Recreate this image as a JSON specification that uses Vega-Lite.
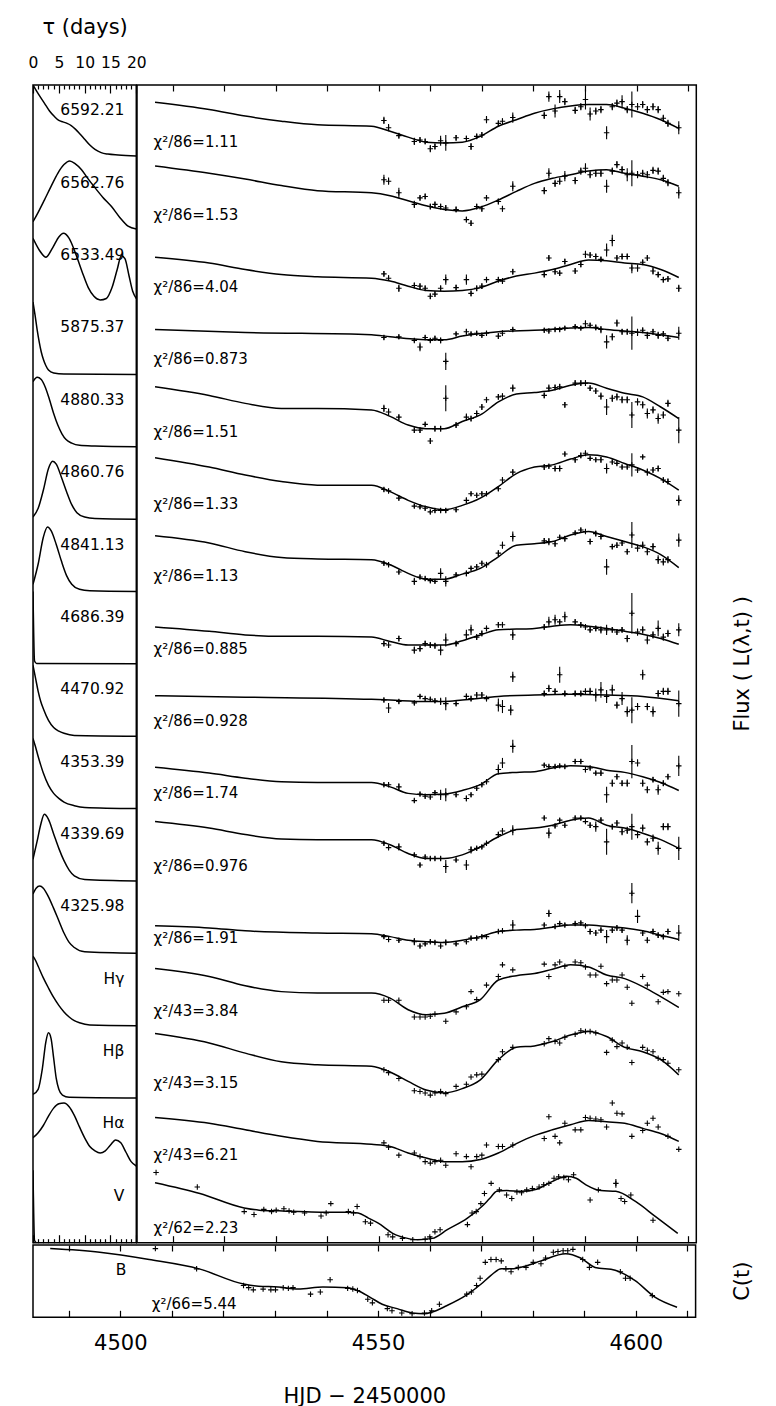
{
"$schema":"https://vega.github.io/schema/vega-lite/v6.json",
"background":"white",
"padding":{"left":27,"top":15,"right":5,"bottom":0},
"config":{"font":"DejaVu Sans","view":{"stroke":"black","strokeWidth":1.5},
"axis":{"domainColor":"black","tickColor":"black","labelColor":"black","titleColor":"black","domainWidth":1.5,"tickWidth":1.2,"grid":false,"titleFontWeight":"normal","labelFont":"DejaVu Sans","titleFont":"DejaVu Sans"}},
"spacing":-5.5,
"vconcat":[
{"hconcat":[
{
"width":103.3,"height":1157.7,
"data":{"values":[
{"r":1,"lab":"6592.21"},{"r":2,"lab":"6562.76"},{"r":3,"lab":"6533.49"},{"r":4,"lab":"5875.37"},{"r":5,"lab":"4880.33"},{"r":6,"lab":"4860.76"},{"r":7,"lab":"4841.13"},{"r":8,"lab":"4686.39"},{"r":9,"lab":"4470.92"},{"r":10,"lab":"4353.39"},{"r":11,"lab":"4339.69"},{"r":12,"lab":"4325.98"},{"r":13,"lab":"Hγ"},{"r":14,"lab":"Hβ"},{"r":15,"lab":"Hα"},{"r":16,"lab":"V"},
{"r":1,"tau":0,"psi":100},{"r":1,"tau":1,"psi":88},{"r":1,"tau":2.2,"psi":75},{"r":1,"tau":3.2,"psi":64},{"r":1,"tau":4.2,"psi":56},{"r":1,"tau":5,"psi":51},{"r":1,"tau":5.8,"psi":49},{"r":1,"tau":6.6,"psi":47},{"r":1,"tau":7.4,"psi":44},{"r":1,"tau":8.2,"psi":39},{"r":1,"tau":9,"psi":33},{"r":1,"tau":10,"psi":25},{"r":1,"tau":11,"psi":17},{"r":1,"tau":12,"psi":11},{"r":1,"tau":13.2,"psi":6.5},{"r":1,"tau":14.5,"psi":4.5},{"r":1,"tau":16.5,"psi":3.3},{"r":1,"tau":20,"psi":2},
{"r":2,"tau":0,"psi":11},{"r":2,"tau":1,"psi":24},{"r":2,"tau":2.2,"psi":41},{"r":2,"tau":3.5,"psi":60},{"r":2,"tau":4.8,"psi":78},{"r":2,"tau":6,"psi":90},{"r":2,"tau":7.1,"psi":95},{"r":2,"tau":8.2,"psi":91},{"r":2,"tau":9.4,"psi":83},{"r":2,"tau":10.6,"psi":71},{"r":2,"tau":11.9,"psi":59},{"r":2,"tau":13.5,"psi":45},{"r":2,"tau":15.2,"psi":32},{"r":2,"tau":16.8,"psi":17},{"r":2,"tau":18.4,"psi":5},{"r":2,"tau":20,"psi":1},
{"r":3,"tau":0,"psi":88},{"r":3,"tau":1.2,"psi":72},{"r":3,"tau":2.5,"psi":62},{"r":3,"tau":3.8,"psi":75},{"r":3,"tau":5,"psi":90},{"r":3,"tau":5.9,"psi":95},{"r":3,"tau":7,"psi":88},{"r":3,"tau":8.2,"psi":68},{"r":3,"tau":9.5,"psi":42},{"r":3,"tau":10.7,"psi":20},{"r":3,"tau":11.8,"psi":8},{"r":3,"tau":13,"psi":3},{"r":3,"tau":14.2,"psi":5},{"r":3,"tau":15.3,"psi":20},{"r":3,"tau":16.3,"psi":45},{"r":3,"tau":17.1,"psi":64},{"r":3,"tau":17.8,"psi":60},{"r":3,"tau":18.6,"psi":36},{"r":3,"tau":19.3,"psi":15},{"r":3,"tau":20,"psi":5},
{"r":4,"tau":0,"psi":100},{"r":4,"tau":0.4,"psi":82},{"r":4,"tau":0.8,"psi":62},{"r":4,"tau":1.2,"psi":45},{"r":4,"tau":1.6,"psi":31},{"r":4,"tau":2,"psi":21},{"r":4,"tau":2.5,"psi":12},{"r":4,"tau":3,"psi":6},{"r":4,"tau":4,"psi":2},{"r":4,"tau":6,"psi":0.5},{"r":4,"tau":20,"psi":0},
{"r":5,"tau":0,"psi":90},{"r":5,"tau":0.8,"psi":96},{"r":5,"tau":1.6,"psi":93},{"r":5,"tau":2.4,"psi":82},{"r":5,"tau":3.2,"psi":65},{"r":5,"tau":4,"psi":46},{"r":5,"tau":4.8,"psi":30},{"r":5,"tau":5.6,"psi":18},{"r":5,"tau":6.4,"psi":10},{"r":5,"tau":7.5,"psi":5},{"r":5,"tau":9,"psi":2},{"r":5,"tau":12,"psi":1},{"r":5,"tau":20,"psi":0},
{"r":6,"tau":0,"psi":3},{"r":6,"tau":1,"psi":15},{"r":6,"tau":2,"psi":40},{"r":6,"tau":3,"psi":70},{"r":6,"tau":3.8,"psi":80},{"r":6,"tau":4.5,"psi":76},{"r":6,"tau":5.5,"psi":58},{"r":6,"tau":6.5,"psi":38},{"r":6,"tau":7.5,"psi":20},{"r":6,"tau":8.5,"psi":9},{"r":6,"tau":10,"psi":3},{"r":6,"tau":12,"psi":1},{"r":6,"tau":20,"psi":0},
{"r":7,"tau":0,"psi":10},{"r":7,"tau":1,"psi":38},{"r":7,"tau":2,"psi":75},{"r":7,"tau":2.8,"psi":89},{"r":7,"tau":3.5,"psi":84},{"r":7,"tau":4.5,"psi":65},{"r":7,"tau":5.5,"psi":42},{"r":7,"tau":6.5,"psi":22},{"r":7,"tau":7.5,"psi":10},{"r":7,"tau":9,"psi":3},{"r":7,"tau":11,"psi":1},{"r":7,"tau":20,"psi":0},
{"r":8,"tau":0,"psi":100},{"r":8,"tau":0.3,"psi":4},{"r":8,"tau":0.7,"psi":0.5},{"r":8,"tau":20,"psi":0},
{"r":9,"tau":0,"psi":98},{"r":9,"tau":0.5,"psi":80},{"r":9,"tau":1,"psi":62},{"r":9,"tau":1.5,"psi":48},{"r":9,"tau":2,"psi":38},{"r":9,"tau":3,"psi":22},{"r":9,"tau":4,"psi":12},{"r":9,"tau":5,"psi":7},{"r":9,"tau":6,"psi":4},{"r":9,"tau":8,"psi":1},{"r":9,"tau":20,"psi":0},
{"r":10,"tau":0,"psi":97},{"r":10,"tau":0.5,"psi":85},{"r":10,"tau":1,"psi":72},{"r":10,"tau":1.5,"psi":60},{"r":10,"tau":2,"psi":49},{"r":10,"tau":3,"psi":32},{"r":10,"tau":4,"psi":21},{"r":10,"tau":5,"psi":14},{"r":10,"tau":6,"psi":9},{"r":10,"tau":8,"psi":4},{"r":10,"tau":10,"psi":1.5},{"r":10,"tau":20,"psi":0},
{"r":11,"tau":0,"psi":30},{"r":11,"tau":0.8,"psi":55},{"r":11,"tau":1.5,"psi":78},{"r":11,"tau":2.2,"psi":92},{"r":11,"tau":3,"psi":85},{"r":11,"tau":4,"psi":65},{"r":11,"tau":5,"psi":45},{"r":11,"tau":6,"psi":28},{"r":11,"tau":7,"psi":15},{"r":11,"tau":8,"psi":7},{"r":11,"tau":10,"psi":2},{"r":11,"tau":20,"psi":0},
{"r":12,"tau":0,"psi":82},{"r":12,"tau":0.6,"psi":90},{"r":12,"tau":1.3,"psi":93},{"r":12,"tau":2,"psi":90},{"r":12,"tau":3,"psi":78},{"r":12,"tau":4,"psi":62},{"r":12,"tau":5,"psi":45},{"r":12,"tau":6,"psi":28},{"r":12,"tau":7,"psi":15},{"r":12,"tau":8,"psi":8},{"r":12,"tau":10,"psi":2},{"r":12,"tau":20,"psi":0},
{"r":13,"tau":0,"psi":96},{"r":13,"tau":0.5,"psi":90},{"r":13,"tau":1,"psi":82},{"r":13,"tau":2,"psi":66},{"r":13,"tau":3,"psi":52},{"r":13,"tau":4,"psi":39},{"r":13,"tau":5,"psi":28},{"r":13,"tau":6,"psi":19},{"r":13,"tau":7,"psi":12},{"r":13,"tau":8,"psi":7},{"r":13,"tau":9,"psi":4},{"r":13,"tau":11,"psi":1},{"r":13,"tau":20,"psi":0},
{"r":14,"tau":0,"psi":5},{"r":14,"tau":1,"psi":12},{"r":14,"tau":1.8,"psi":40},{"r":14,"tau":2.5,"psi":78},{"r":14,"tau":3,"psi":90},{"r":14,"tau":3.5,"psi":82},{"r":14,"tau":4,"psi":55},{"r":14,"tau":4.5,"psi":27},{"r":14,"tau":5,"psi":12},{"r":14,"tau":5.7,"psi":4},{"r":14,"tau":7,"psi":1},{"r":14,"tau":20,"psi":0},
{"r":15,"tau":0,"psi":45},{"r":15,"tau":1,"psi":52},{"r":15,"tau":2,"psi":62},{"r":15,"tau":3,"psi":75},{"r":15,"tau":4,"psi":86},{"r":15,"tau":5,"psi":92},{"r":15,"tau":6,"psi":93},{"r":15,"tau":7,"psi":88},{"r":15,"tau":8,"psi":76},{"r":15,"tau":9,"psi":60},{"r":15,"tau":10,"psi":45},{"r":15,"tau":11,"psi":33},{"r":15,"tau":12,"psi":27},{"r":15,"tau":13,"psi":24},{"r":15,"tau":14,"psi":27},{"r":15,"tau":15,"psi":35},{"r":15,"tau":16,"psi":42},{"r":15,"tau":17,"psi":38},{"r":15,"tau":18,"psi":25},{"r":15,"tau":19,"psi":12},{"r":15,"tau":20,"psi":6},
{"r":16,"tau":0,"psi":100},{"r":16,"tau":0.3,"psi":3},{"r":16,"tau":0.7,"psi":0},{"r":16,"tau":20,"psi":0}
]},
"layer":[
{"transform":[{"filter":"isValid(datum.psi)"}],
"mark":{"type":"line","color":"black","strokeWidth":1.5,"interpolate":"monotone","clip":true},
"encoding":{
"x":{"field":"tau","type":"quantitative","scale":{"domain":[0,20],"nice":false,"zero":false},
"axis":{"orient":"top","title":"τ (days)","titleFontSize":21,"titlePadding":14,"values":[0,1,2,3,4,5,6,7,8,9,10,11,12,13,14,15,16,17,18,19,20],"format":"d","labelExpr":"datum.value % 5 === 0 ? datum.label : ''","labelFontSize":15.5,"labelPadding":22.5,"labelFlush":false,"labelOverlap":false,"labelBound":false,"domain":false,"tickSize":{"condition":{"test":"datum.value % 5 === 0","value":-8},"value":-4}}},
"y":{"field":"r","type":"ordinal","scale":{"paddingInner":0,"paddingOuter":0},"axis":null},
"yOffset":{"field":"psi","type":"quantitative","scale":{"domain":[0,100],"range":[72.36,0]}},
"detail":{"field":"r","type":"nominal"},
"order":{"field":"tau","type":"quantitative"}}},
{"transform":[{"filter":"isValid(datum.lab)"}],
"mark":{"type":"text","align":"right","baseline":"alphabetic","fontSize":15.5,"color":"black"},
"encoding":{
"x":{"datum":17.7,"axis":{"orient":"bottom","title":null,"labels":false,"domain":false,"values":[0,1,2,3,4,5,6,7,8,9,10,11,12,13,14,15,16,17,18,19,20],"tickSize":{"condition":{"test":"datum.value % 5 === 0","value":-8},"value":-4}}},
"y":{"field":"r","type":"ordinal","axis":null},
"yOffset":{"datum":58},
"text":{"field":"lab"}}}
]
},
{
"width":559.3,"height":1157.7,
"data":{"values":[
{"r":1,"chi":"χ²/86=1.11"},{"r":2,"chi":"χ²/86=1.53"},{"r":3,"chi":"χ²/86=4.04"},{"r":4,"chi":"χ²/86=0.873"},{"r":5,"chi":"χ²/86=1.51"},{"r":6,"chi":"χ²/86=1.33"},{"r":7,"chi":"χ²/86=1.13"},{"r":8,"chi":"χ²/86=0.885","ylab":"Flux ( L(λ,t) )"},{"r":9,"chi":"χ²/86=0.928"},{"r":10,"chi":"χ²/86=1.74"},{"r":11,"chi":"χ²/86=0.976"},{"r":12,"chi":"χ²/86=1.91"},{"r":13,"chi":"χ²/43=3.84"},{"r":14,"chi":"χ²/43=3.15"},{"r":15,"chi":"χ²/43=6.21"},{"r":16,"chi":"χ²/62=2.23"},
{"r":1,"t":4506.6,"m":76},{"r":1,"t":4517.1,"m":66},{"r":1,"t":4524.1,"m":57},{"r":1,"t":4531.1,"m":50},{"r":1,"t":4538.1,"m":45},{"r":1,"t":4548.6,"m":43},{"r":1,"t":4552.2,"m":36},{"r":1,"t":4555.7,"m":28},{"r":1,"t":4559.2,"m":21},{"r":1,"t":4562.7,"m":20},{"r":1,"t":4566.2,"m":21},{"r":1,"t":4569.7,"m":29},{"r":1,"t":4573.2,"m":43},{"r":1,"t":4576.7,"m":52},{"r":1,"t":4580.2,"m":61},{"r":1,"t":4583.7,"m":67},{"r":1,"t":4587.2,"m":71},{"r":1,"t":4590.7,"m":73},{"r":1,"t":4594.2,"m":73},{"r":1,"t":4597.7,"m":68},{"r":1,"t":4601.2,"m":61},{"r":1,"t":4604.7,"m":52},{"r":1,"t":4608.2,"m":40},
{"r":2,"t":4506.6,"m":88},{"r":2,"t":4517.1,"m":78},{"r":2,"t":4524.1,"m":70},{"r":2,"t":4531.1,"m":61},{"r":2,"t":4538.1,"m":54},{"r":2,"t":4548.6,"m":51},{"r":2,"t":4552.2,"m":47},{"r":2,"t":4555.7,"m":40},{"r":2,"t":4559.2,"m":33},{"r":2,"t":4562.7,"m":28},{"r":2,"t":4566.2,"m":26},{"r":2,"t":4569.7,"m":31},{"r":2,"t":4573.2,"m":41},{"r":2,"t":4576.7,"m":53},{"r":2,"t":4580.2,"m":64},{"r":2,"t":4583.7,"m":71},{"r":2,"t":4587.2,"m":76},{"r":2,"t":4590.7,"m":81},{"r":2,"t":4594.2,"m":83},{"r":2,"t":4597.7,"m":78},{"r":2,"t":4601.2,"m":74},{"r":2,"t":4604.7,"m":69},{"r":2,"t":4608.2,"m":60},
{"r":3,"t":4506.6,"m":62},{"r":3,"t":4517.1,"m":54},{"r":3,"t":4524.1,"m":45},{"r":3,"t":4531.1,"m":38},{"r":3,"t":4538.1,"m":35},{"r":3,"t":4548.6,"m":33},{"r":3,"t":4552.2,"m":29},{"r":3,"t":4555.7,"m":22},{"r":3,"t":4559.2,"m":16},{"r":3,"t":4562.7,"m":15},{"r":3,"t":4566.2,"m":16},{"r":3,"t":4569.7,"m":20},{"r":3,"t":4573.2,"m":29},{"r":3,"t":4576.7,"m":36},{"r":3,"t":4580.2,"m":40},{"r":3,"t":4583.7,"m":45},{"r":3,"t":4587.2,"m":52},{"r":3,"t":4590.7,"m":58},{"r":3,"t":4594.2,"m":57},{"r":3,"t":4597.7,"m":54},{"r":3,"t":4601.2,"m":52},{"r":3,"t":4604.7,"m":45},{"r":3,"t":4608.2,"m":34},
{"r":4,"t":4506.6,"m":62},{"r":4,"t":4524.1,"m":58},{"r":4,"t":4548.6,"m":55},{"r":4,"t":4552.2,"m":52},{"r":4,"t":4559.2,"m":48},{"r":4,"t":4562.7,"m":48},{"r":4,"t":4566.2,"m":53},{"r":4,"t":4573.2,"m":59},{"r":4,"t":4580.2,"m":61},{"r":4,"t":4587.2,"m":64},{"r":4,"t":4590.7,"m":65},{"r":4,"t":4594.2,"m":62},{"r":4,"t":4601.2,"m":58},{"r":4,"t":4608.2,"m":51},
{"r":5,"t":4506.6,"m":83},{"r":5,"t":4517.1,"m":71},{"r":5,"t":4524.1,"m":60},{"r":5,"t":4531.1,"m":53},{"r":5,"t":4538.1,"m":53},{"r":5,"t":4548.6,"m":51},{"r":5,"t":4552.2,"m":42},{"r":5,"t":4555.7,"m":30},{"r":5,"t":4559.2,"m":25},{"r":5,"t":4562.7,"m":25},{"r":5,"t":4566.2,"m":35},{"r":5,"t":4569.7,"m":44},{"r":5,"t":4573.2,"m":62},{"r":5,"t":4576.7,"m":73},{"r":5,"t":4580.2,"m":75},{"r":5,"t":4583.7,"m":78},{"r":5,"t":4587.2,"m":85},{"r":5,"t":4590.7,"m":88},{"r":5,"t":4594.2,"m":81},{"r":5,"t":4597.7,"m":74},{"r":5,"t":4601.2,"m":69},{"r":5,"t":4604.7,"m":55},{"r":5,"t":4608.2,"m":39},
{"r":6,"t":4506.6,"m":85},{"r":6,"t":4517.1,"m":72},{"r":6,"t":4524.1,"m":61},{"r":6,"t":4531.1,"m":52},{"r":6,"t":4538.1,"m":47},{"r":6,"t":4548.6,"m":47},{"r":6,"t":4552.2,"m":38},{"r":6,"t":4555.7,"m":26},{"r":6,"t":4559.2,"m":17},{"r":6,"t":4562.7,"m":13},{"r":6,"t":4566.2,"m":19},{"r":6,"t":4569.7,"m":29},{"r":6,"t":4573.2,"m":45},{"r":6,"t":4576.7,"m":63},{"r":6,"t":4580.2,"m":72},{"r":6,"t":4583.7,"m":75},{"r":6,"t":4587.2,"m":83},{"r":6,"t":4590.7,"m":89},{"r":6,"t":4594.2,"m":86},{"r":6,"t":4597.7,"m":77},{"r":6,"t":4601.2,"m":68},{"r":6,"t":4604.7,"m":56},{"r":6,"t":4608.2,"m":40},
{"r":7,"t":4506.6,"m":77},{"r":7,"t":4517.1,"m":67},{"r":7,"t":4524.1,"m":55},{"r":7,"t":4531.1,"m":47},{"r":7,"t":4538.1,"m":45},{"r":7,"t":4548.6,"m":44},{"r":7,"t":4552.2,"m":37},{"r":7,"t":4555.7,"m":25},{"r":7,"t":4559.2,"m":17},{"r":7,"t":4562.7,"m":17},{"r":7,"t":4566.2,"m":24},{"r":7,"t":4569.7,"m":32},{"r":7,"t":4573.2,"m":48},{"r":7,"t":4576.7,"m":64},{"r":7,"t":4580.2,"m":66},{"r":7,"t":4583.7,"m":69},{"r":7,"t":4587.2,"m":78},{"r":7,"t":4590.7,"m":83},{"r":7,"t":4594.2,"m":76},{"r":7,"t":4597.7,"m":69},{"r":7,"t":4601.2,"m":62},{"r":7,"t":4604.7,"m":51},{"r":7,"t":4608.2,"m":33},
{"r":8,"t":4506.6,"m":51},{"r":8,"t":4517.1,"m":45},{"r":8,"t":4524.1,"m":40},{"r":8,"t":4531.1,"m":38},{"r":8,"t":4538.1,"m":38},{"r":8,"t":4548.6,"m":37},{"r":8,"t":4552.2,"m":31},{"r":8,"t":4555.7,"m":26},{"r":8,"t":4559.2,"m":26},{"r":8,"t":4562.7,"m":26},{"r":8,"t":4566.2,"m":32},{"r":8,"t":4569.7,"m":40},{"r":8,"t":4573.2,"m":47},{"r":8,"t":4576.7,"m":48},{"r":8,"t":4580.2,"m":49},{"r":8,"t":4583.7,"m":52},{"r":8,"t":4587.2,"m":54},{"r":8,"t":4590.7,"m":52},{"r":8,"t":4594.2,"m":49},{"r":8,"t":4597.7,"m":45},{"r":8,"t":4601.2,"m":41},{"r":8,"t":4604.7,"m":35},{"r":8,"t":4608.2,"m":27},
{"r":9,"t":4506.6,"m":56},{"r":9,"t":4524.1,"m":54},{"r":9,"t":4548.6,"m":51},{"r":9,"t":4552.2,"m":50},{"r":9,"t":4559.2,"m":48},{"r":9,"t":4562.7,"m":48},{"r":9,"t":4566.2,"m":50},{"r":9,"t":4573.2,"m":55},{"r":9,"t":4580.2,"m":57},{"r":9,"t":4587.2,"m":58},{"r":9,"t":4594.2,"m":57},{"r":9,"t":4601.2,"m":55},{"r":9,"t":4608.2,"m":49},
{"r":10,"t":4506.6,"m":57},{"r":10,"t":4517.1,"m":49},{"r":10,"t":4524.1,"m":42},{"r":10,"t":4531.1,"m":37},{"r":10,"t":4538.1,"m":36},{"r":10,"t":4548.6,"m":36},{"r":10,"t":4552.2,"m":30},{"r":10,"t":4555.7,"m":21},{"r":10,"t":4559.2,"m":19},{"r":10,"t":4562.7,"m":20},{"r":10,"t":4566.2,"m":25},{"r":10,"t":4569.7,"m":33},{"r":10,"t":4573.2,"m":48},{"r":10,"t":4576.7,"m":50},{"r":10,"t":4580.2,"m":51},{"r":10,"t":4583.7,"m":56},{"r":10,"t":4587.2,"m":59},{"r":10,"t":4590.7,"m":58},{"r":10,"t":4594.2,"m":53},{"r":10,"t":4597.7,"m":50},{"r":10,"t":4601.2,"m":44},{"r":10,"t":4604.7,"m":36},{"r":10,"t":4608.2,"m":25},
{"r":11,"t":4506.6,"m":82},{"r":11,"t":4517.1,"m":73},{"r":11,"t":4524.1,"m":64},{"r":11,"t":4531.1,"m":58},{"r":11,"t":4538.1,"m":57},{"r":11,"t":4548.6,"m":57},{"r":11,"t":4552.2,"m":50},{"r":11,"t":4555.7,"m":38},{"r":11,"t":4559.2,"m":31},{"r":11,"t":4562.7,"m":31},{"r":11,"t":4566.2,"m":36},{"r":11,"t":4569.7,"m":47},{"r":11,"t":4573.2,"m":61},{"r":11,"t":4576.7,"m":71},{"r":11,"t":4580.2,"m":73},{"r":11,"t":4583.7,"m":77},{"r":11,"t":4587.2,"m":84},{"r":11,"t":4590.7,"m":87},{"r":11,"t":4594.2,"m":77},{"r":11,"t":4597.7,"m":73},{"r":11,"t":4601.2,"m":66},{"r":11,"t":4604.7,"m":57},{"r":11,"t":4608.2,"m":45},
{"r":12,"t":4506.6,"m":38},{"r":12,"t":4517.1,"m":35},{"r":12,"t":4524.1,"m":31},{"r":12,"t":4538.1,"m":28},{"r":12,"t":4548.6,"m":27},{"r":12,"t":4552.2,"m":23},{"r":12,"t":4555.7,"m":18},{"r":12,"t":4559.2,"m":16},{"r":12,"t":4562.7,"m":15},{"r":12,"t":4566.2,"m":18},{"r":12,"t":4569.7,"m":23},{"r":12,"t":4573.2,"m":30},{"r":12,"t":4576.7,"m":32},{"r":12,"t":4580.2,"m":33},{"r":12,"t":4583.7,"m":36},{"r":12,"t":4587.2,"m":39},{"r":12,"t":4590.7,"m":39},{"r":12,"t":4594.2,"m":37},{"r":12,"t":4597.7,"m":35},{"r":12,"t":4601.2,"m":31},{"r":12,"t":4604.7,"m":25},{"r":12,"t":4608.2,"m":19},
{"r":13,"t":4506.6,"m":79},{"r":13,"t":4517.1,"m":68},{"r":13,"t":4524.1,"m":55},{"r":13,"t":4531.1,"m":47},{"r":13,"t":4538.1,"m":45},{"r":13,"t":4548.6,"m":45},{"r":13,"t":4552.2,"m":38},{"r":13,"t":4555.7,"m":22},{"r":13,"t":4559.2,"m":15},{"r":13,"t":4562.7,"m":17},{"r":13,"t":4566.2,"m":26},{"r":13,"t":4569.7,"m":36},{"r":13,"t":4573.2,"m":63},{"r":13,"t":4576.7,"m":69},{"r":13,"t":4580.2,"m":72},{"r":13,"t":4583.7,"m":78},{"r":13,"t":4587.2,"m":84},{"r":13,"t":4590.7,"m":81},{"r":13,"t":4594.2,"m":70},{"r":13,"t":4597.7,"m":65},{"r":13,"t":4601.2,"m":54},{"r":13,"t":4604.7,"m":40},{"r":13,"t":4608.2,"m":25},
{"r":14,"t":4506.6,"m":89},{"r":14,"t":4517.1,"m":76},{"r":14,"t":4524.1,"m":62},{"r":14,"t":4531.1,"m":50},{"r":14,"t":4538.1,"m":46},{"r":14,"t":4548.6,"m":44},{"r":14,"t":4552.2,"m":36},{"r":14,"t":4555.7,"m":23},{"r":14,"t":4559.2,"m":11},{"r":14,"t":4562.7,"m":7},{"r":14,"t":4566.2,"m":13},{"r":14,"t":4569.7,"m":25},{"r":14,"t":4573.2,"m":53},{"r":14,"t":4576.7,"m":70},{"r":14,"t":4580.2,"m":72},{"r":14,"t":4583.7,"m":78},{"r":14,"t":4587.2,"m":87},{"r":14,"t":4590.7,"m":92},{"r":14,"t":4594.2,"m":85},{"r":14,"t":4597.7,"m":70},{"r":14,"t":4601.2,"m":64},{"r":14,"t":4604.7,"m":53},{"r":14,"t":4608.2,"m":32},
{"r":15,"t":4506.6,"m":73},{"r":15,"t":4517.1,"m":65},{"r":15,"t":4524.1,"m":56},{"r":15,"t":4531.1,"m":47},{"r":15,"t":4538.1,"m":40},{"r":15,"t":4548.6,"m":36},{"r":15,"t":4552.2,"m":33},{"r":15,"t":4555.7,"m":24},{"r":15,"t":4559.2,"m":17},{"r":15,"t":4562.7,"m":12},{"r":15,"t":4566.2,"m":12},{"r":15,"t":4569.7,"m":15},{"r":15,"t":4573.2,"m":24},{"r":15,"t":4576.7,"m":37},{"r":15,"t":4580.2,"m":48},{"r":15,"t":4583.7,"m":56},{"r":15,"t":4587.2,"m":63},{"r":15,"t":4590.7,"m":69},{"r":15,"t":4594.2,"m":67},{"r":15,"t":4597.7,"m":65},{"r":15,"t":4601.2,"m":58},{"r":15,"t":4604.7,"m":51},{"r":15,"t":4608.2,"m":40},
{"r":16,"t":4506.6,"m":83},{"r":16,"t":4515.3,"m":68},{"r":16,"t":4523.9,"m":48},{"r":16,"t":4526.8,"m":45},{"r":16,"t":4530.6,"m":44},{"r":16,"t":4534.5,"m":43},{"r":16,"t":4539.3,"m":42},{"r":16,"t":4544.1,"m":42},{"r":16,"t":4546,"m":41},{"r":16,"t":4548,"m":34},{"r":16,"t":4549.9,"m":27},{"r":16,"t":4552.7,"m":13},{"r":16,"t":4555.6,"m":6},{"r":16,"t":4557.5,"m":4},{"r":16,"t":4560.4,"m":6},{"r":16,"t":4563.3,"m":18},{"r":16,"t":4567.2,"m":34},{"r":16,"t":4570,"m":50},{"r":16,"t":4571.5,"m":61},{"r":16,"t":4572.9,"m":71},{"r":16,"t":4574.8,"m":72},{"r":16,"t":4577.7,"m":71},{"r":16,"t":4580.6,"m":74},{"r":16,"t":4583.5,"m":84},{"r":16,"t":4586.4,"m":92},{"r":16,"t":4588.3,"m":89},{"r":16,"t":4590.2,"m":80},{"r":16,"t":4593.1,"m":72},{"r":16,"t":4596,"m":71},{"r":16,"t":4599.8,"m":57},{"r":16,"t":4603.7,"m":36},{"r":16,"t":4608,"m":13},
{"r":1,"t":4551,"f":51,"e":5},{"r":1,"t":4551.9,"f":41,"e":5},{"r":1,"t":4553.9,"f":30,"e":4},{"r":1,"t":4556.9,"f":22,"e":5},{"r":1,"t":4558,"f":24,"e":4},{"r":1,"t":4559,"f":22,"e":4},{"r":1,"t":4560,"f":12,"e":5},{"r":1,"t":4560.9,"f":15,"e":4},{"r":1,"t":4562,"f":23,"e":7},{"r":1,"t":4563,"f":20,"e":11},{"r":1,"t":4565,"f":27,"e":4},{"r":1,"t":4567,"f":26,"e":4},{"r":1,"t":4567.9,"f":15,"e":5},{"r":1,"t":4569,"f":29,"e":4},{"r":1,"t":4570,"f":31,"e":4},{"r":1,"t":4570.9,"f":52,"e":5},{"r":1,"t":4573.2,"f":47,"e":4},{"r":1,"t":4574,"f":50,"e":4},{"r":1,"t":4576,"f":55,"e":7},{"r":1,"t":4582.1,"f":58,"e":5},{"r":1,"t":4583,"f":84,"e":7},{"r":1,"t":4584.2,"f":64,"e":9},{"r":1,"t":4585.1,"f":84,"e":9},{"r":1,"t":4586.1,"f":77,"e":5},{"r":1,"t":4588.1,"f":65,"e":5},{"r":1,"t":4589.2,"f":70,"e":5},{"r":1,"t":4590.1,"f":80,"e":14},{"r":1,"t":4591,"f":60,"e":9},{"r":1,"t":4592.1,"f":64,"e":5},{"r":1,"t":4593.1,"f":66,"e":5},{"r":1,"t":4594.2,"f":34,"e":9},{"r":1,"t":4595.3,"f":70,"e":5},{"r":1,"t":4596.2,"f":75,"e":5},{"r":1,"t":4597.2,"f":77,"e":9},{"r":1,"t":4598.2,"f":66,"e":5},{"r":1,"t":4599.1,"f":73,"e":18},{"r":1,"t":4600.2,"f":70,"e":5},{"r":1,"t":4601.2,"f":73,"e":5},{"r":1,"t":4602.1,"f":66,"e":5},{"r":1,"t":4603.2,"f":70,"e":5},{"r":1,"t":4604.2,"f":66,"e":5},{"r":1,"t":4605.2,"f":54,"e":5},{"r":1,"t":4606.1,"f":47,"e":5},{"r":1,"t":4608.2,"f":41,"e":9},
{"r":2,"t":4551,"f":69,"e":7},{"r":2,"t":4551.9,"f":67,"e":5},{"r":2,"t":4553.9,"f":51,"e":7},{"r":2,"t":4556.9,"f":35,"e":5},{"r":2,"t":4558,"f":44,"e":4},{"r":2,"t":4559,"f":46,"e":4},{"r":2,"t":4560,"f":32,"e":4},{"r":2,"t":4560.9,"f":35,"e":4},{"r":2,"t":4562,"f":32,"e":4},{"r":2,"t":4563,"f":30,"e":4},{"r":2,"t":4565,"f":28,"e":4},{"r":2,"t":4567,"f":14,"e":4},{"r":2,"t":4567.9,"f":9,"e":4},{"r":2,"t":4569,"f":32,"e":4},{"r":2,"t":4570,"f":29,"e":4},{"r":2,"t":4570.9,"f":44,"e":4},{"r":2,"t":4573.2,"f":39,"e":4},{"r":2,"t":4574,"f":29,"e":4},{"r":2,"t":4576,"f":60,"e":7},{"r":2,"t":4582.1,"f":54,"e":5},{"r":2,"t":4583,"f":78,"e":7},{"r":2,"t":4584.2,"f":64,"e":5},{"r":2,"t":4585.1,"f":67,"e":5},{"r":2,"t":4586.1,"f":74,"e":7},{"r":2,"t":4588.1,"f":68,"e":5},{"r":2,"t":4589.2,"f":81,"e":5},{"r":2,"t":4590.1,"f":85,"e":7},{"r":2,"t":4591,"f":76,"e":5},{"r":2,"t":4592.1,"f":78,"e":5},{"r":2,"t":4593.1,"f":78,"e":5},{"r":2,"t":4594.2,"f":60,"e":9},{"r":2,"t":4595.3,"f":81,"e":5},{"r":2,"t":4596.2,"f":90,"e":5},{"r":2,"t":4597.2,"f":83,"e":5},{"r":2,"t":4598.2,"f":76,"e":9},{"r":2,"t":4599.1,"f":78,"e":18},{"r":2,"t":4600.2,"f":76,"e":5},{"r":2,"t":4601.2,"f":78,"e":5},{"r":2,"t":4602.1,"f":76,"e":5},{"r":2,"t":4603.2,"f":82,"e":5},{"r":2,"t":4604.2,"f":81,"e":5},{"r":2,"t":4605.2,"f":71,"e":5},{"r":2,"t":4606.1,"f":65,"e":5},{"r":2,"t":4608.2,"f":51,"e":8},
{"r":3,"t":4551,"f":39,"e":4},{"r":3,"t":4551.9,"f":33,"e":4},{"r":3,"t":4553.9,"f":19,"e":5},{"r":3,"t":4556.9,"f":23,"e":4},{"r":3,"t":4558,"f":22,"e":4},{"r":3,"t":4559,"f":19,"e":4},{"r":3,"t":4560,"f":8,"e":4},{"r":3,"t":4560.9,"f":11,"e":4},{"r":3,"t":4562,"f":19,"e":4},{"r":3,"t":4563,"f":31,"e":7},{"r":3,"t":4565,"f":20,"e":4},{"r":3,"t":4567,"f":31,"e":7},{"r":3,"t":4567.9,"f":12,"e":4},{"r":3,"t":4569,"f":19,"e":4},{"r":3,"t":4570,"f":22,"e":4},{"r":3,"t":4570.9,"f":31,"e":4},{"r":3,"t":4573.2,"f":31,"e":4},{"r":3,"t":4574,"f":29,"e":4},{"r":3,"t":4576,"f":42,"e":4},{"r":3,"t":4582.1,"f":38,"e":4},{"r":3,"t":4583,"f":61,"e":4},{"r":3,"t":4584.2,"f":42,"e":4},{"r":3,"t":4585.1,"f":40,"e":4},{"r":3,"t":4586.1,"f":56,"e":4},{"r":3,"t":4588.1,"f":43,"e":4},{"r":3,"t":4589.2,"f":52,"e":4},{"r":3,"t":4590.1,"f":66,"e":5},{"r":3,"t":4591,"f":65,"e":4},{"r":3,"t":4592.1,"f":63,"e":4},{"r":3,"t":4593.1,"f":59,"e":4},{"r":3,"t":4594.2,"f":72,"e":9},{"r":3,"t":4595.3,"f":85,"e":8},{"r":3,"t":4596.2,"f":61,"e":4},{"r":3,"t":4597.2,"f":63,"e":4},{"r":3,"t":4598.2,"f":63,"e":4},{"r":3,"t":4599.1,"f":47,"e":7},{"r":3,"t":4600.2,"f":47,"e":5},{"r":3,"t":4601.2,"f":55,"e":4},{"r":3,"t":4602.1,"f":61,"e":4},{"r":3,"t":4603.2,"f":43,"e":5},{"r":3,"t":4604.2,"f":38,"e":4},{"r":3,"t":4605.2,"f":31,"e":4},{"r":3,"t":4606.1,"f":32,"e":4},{"r":3,"t":4608.2,"f":19,"e":5},
{"r":4,"t":4551,"f":51,"e":3},{"r":4,"t":4553.9,"f":52,"e":3},{"r":4,"t":4556.9,"f":47,"e":3},{"r":4,"t":4558,"f":38,"e":6},{"r":4,"t":4559,"f":51,"e":3},{"r":4,"t":4560,"f":47,"e":3},{"r":4,"t":4560.9,"f":50,"e":3},{"r":4,"t":4562,"f":47,"e":4},{"r":4,"t":4563,"f":18,"e":12},{"r":4,"t":4565,"f":56,"e":3},{"r":4,"t":4567,"f":59,"e":4},{"r":4,"t":4567.9,"f":56,"e":3},{"r":4,"t":4569,"f":57,"e":3},{"r":4,"t":4570,"f":54,"e":3},{"r":4,"t":4570.9,"f":57,"e":3},{"r":4,"t":4573.2,"f":53,"e":4},{"r":4,"t":4574,"f":57,"e":4},{"r":4,"t":4576,"f":62,"e":3},{"r":4,"t":4582.1,"f":61,"e":3},{"r":4,"t":4583,"f":60,"e":3},{"r":4,"t":4584.2,"f":62,"e":3},{"r":4,"t":4585.1,"f":62,"e":3},{"r":4,"t":4586.1,"f":64,"e":3},{"r":4,"t":4588.1,"f":66,"e":3},{"r":4,"t":4589.2,"f":64,"e":3},{"r":4,"t":4590.1,"f":70,"e":5},{"r":4,"t":4591,"f":68,"e":3},{"r":4,"t":4592.1,"f":65,"e":4},{"r":4,"t":4593.1,"f":62,"e":5},{"r":4,"t":4594.2,"f":45,"e":9},{"r":4,"t":4595.3,"f":52,"e":5},{"r":4,"t":4596.2,"f":71,"e":5},{"r":4,"t":4597.2,"f":59,"e":4},{"r":4,"t":4598.2,"f":59,"e":4},{"r":4,"t":4599.1,"f":57,"e":23},{"r":4,"t":4600.2,"f":58,"e":5},{"r":4,"t":4601.2,"f":61,"e":4},{"r":4,"t":4602.1,"f":54,"e":5},{"r":4,"t":4603.2,"f":59,"e":4},{"r":4,"t":4604.2,"f":54,"e":5},{"r":4,"t":4605.2,"f":56,"e":4},{"r":4,"t":4606.1,"f":50,"e":4},{"r":4,"t":4608.2,"f":57,"e":9},
{"r":5,"t":4551,"f":53,"e":5},{"r":5,"t":4551.9,"f":48,"e":5},{"r":5,"t":4553.9,"f":41,"e":4},{"r":5,"t":4556.9,"f":23,"e":4},{"r":5,"t":4558,"f":23,"e":4},{"r":5,"t":4559,"f":31,"e":3},{"r":5,"t":4560,"f":8,"e":4},{"r":5,"t":4560.9,"f":25,"e":4},{"r":5,"t":4562,"f":25,"e":4},{"r":5,"t":4563,"f":67,"e":18},{"r":5,"t":4565,"f":30,"e":4},{"r":5,"t":4567,"f":41,"e":5},{"r":5,"t":4567.9,"f":39,"e":4},{"r":5,"t":4569,"f":46,"e":4},{"r":5,"t":4570,"f":55,"e":4},{"r":5,"t":4570.9,"f":65,"e":4},{"r":5,"t":4573.2,"f":69,"e":4},{"r":5,"t":4574,"f":70,"e":4},{"r":5,"t":4576,"f":81,"e":5},{"r":5,"t":4582.1,"f":71,"e":4},{"r":5,"t":4583,"f":81,"e":5},{"r":5,"t":4584.2,"f":82,"e":4},{"r":5,"t":4585.1,"f":83,"e":4},{"r":5,"t":4586.1,"f":58,"e":4},{"r":5,"t":4588.1,"f":88,"e":4},{"r":5,"t":4589.2,"f":88,"e":4},{"r":5,"t":4590.1,"f":88,"e":4},{"r":5,"t":4591,"f":81,"e":4},{"r":5,"t":4592.1,"f":77,"e":4},{"r":5,"t":4593.1,"f":70,"e":5},{"r":5,"t":4594.2,"f":55,"e":11},{"r":5,"t":4595.3,"f":67,"e":5},{"r":5,"t":4596.2,"f":69,"e":5},{"r":5,"t":4597.2,"f":65,"e":5},{"r":5,"t":4598.2,"f":65,"e":5},{"r":5,"t":4599.1,"f":44,"e":18},{"r":5,"t":4600.2,"f":62,"e":5},{"r":5,"t":4601.2,"f":58,"e":5},{"r":5,"t":4602.1,"f":46,"e":7},{"r":5,"t":4603.2,"f":51,"e":5},{"r":5,"t":4604.2,"f":39,"e":7},{"r":5,"t":4605.2,"f":44,"e":5},{"r":5,"t":4606.1,"f":60,"e":5},{"r":5,"t":4608.2,"f":23,"e":18},
{"r":6,"t":4551,"f":41,"e":3},{"r":6,"t":4551.9,"f":39,"e":3},{"r":6,"t":4553.9,"f":29,"e":3},{"r":6,"t":4556.9,"f":18,"e":3},{"r":6,"t":4558,"f":17,"e":3},{"r":6,"t":4559,"f":15,"e":3},{"r":6,"t":4560,"f":10,"e":3},{"r":6,"t":4560.9,"f":12,"e":3},{"r":6,"t":4562,"f":12,"e":3},{"r":6,"t":4563,"f":12,"e":3},{"r":6,"t":4565,"f":13,"e":3},{"r":6,"t":4567,"f":26,"e":4},{"r":6,"t":4567.9,"f":35,"e":3},{"r":6,"t":4569,"f":33,"e":3},{"r":6,"t":4570,"f":35,"e":3},{"r":6,"t":4570.9,"f":35,"e":3},{"r":6,"t":4573.2,"f":42,"e":3},{"r":6,"t":4574,"f":54,"e":4},{"r":6,"t":4576,"f":65,"e":4},{"r":6,"t":4582.1,"f":72,"e":4},{"r":6,"t":4583,"f":73,"e":3},{"r":6,"t":4584.2,"f":70,"e":4},{"r":6,"t":4585.1,"f":70,"e":4},{"r":6,"t":4586.1,"f":90,"e":3},{"r":6,"t":4588.1,"f":82,"e":4},{"r":6,"t":4589.2,"f":88,"e":4},{"r":6,"t":4590.1,"f":91,"e":4},{"r":6,"t":4591,"f":84,"e":3},{"r":6,"t":4592.1,"f":82,"e":3},{"r":6,"t":4593.1,"f":82,"e":4},{"r":6,"t":4594.2,"f":70,"e":7},{"r":6,"t":4595.3,"f":79,"e":3},{"r":6,"t":4596.2,"f":77,"e":3},{"r":6,"t":4597.2,"f":72,"e":3},{"r":6,"t":4598.2,"f":72,"e":3},{"r":6,"t":4599.1,"f":75,"e":16},{"r":6,"t":4600.2,"f":68,"e":4},{"r":6,"t":4601.2,"f":86,"e":3},{"r":6,"t":4602.1,"f":65,"e":5},{"r":6,"t":4603.2,"f":68,"e":4},{"r":6,"t":4604.2,"f":70,"e":4},{"r":6,"t":4605.2,"f":54,"e":4},{"r":6,"t":4606.1,"f":52,"e":4},{"r":6,"t":4608.2,"f":26,"e":7},
{"r":7,"t":4551,"f":39,"e":3},{"r":7,"t":4551.9,"f":37,"e":3},{"r":7,"t":4553.9,"f":27,"e":3},{"r":7,"t":4556.9,"f":14,"e":5},{"r":7,"t":4558,"f":20,"e":3},{"r":7,"t":4559,"f":18,"e":3},{"r":7,"t":4560,"f":15,"e":3},{"r":7,"t":4560.9,"f":14,"e":3},{"r":7,"t":4562,"f":25,"e":7},{"r":7,"t":4563,"f":14,"e":7},{"r":7,"t":4565,"f":23,"e":3},{"r":7,"t":4567,"f":25,"e":4},{"r":7,"t":4567.9,"f":32,"e":3},{"r":7,"t":4569,"f":34,"e":4},{"r":7,"t":4570,"f":39,"e":3},{"r":7,"t":4570.9,"f":37,"e":4},{"r":7,"t":4573.2,"f":53,"e":4},{"r":7,"t":4574,"f":64,"e":5},{"r":7,"t":4576,"f":76,"e":7},{"r":7,"t":4582.1,"f":70,"e":4},{"r":7,"t":4583,"f":69,"e":5},{"r":7,"t":4584.2,"f":66,"e":4},{"r":7,"t":4585.1,"f":75,"e":3},{"r":7,"t":4586.1,"f":73,"e":4},{"r":7,"t":4588.1,"f":81,"e":3},{"r":7,"t":4589.2,"f":85,"e":3},{"r":7,"t":4590.1,"f":83,"e":3},{"r":7,"t":4591,"f":69,"e":4},{"r":7,"t":4592.1,"f":80,"e":4},{"r":7,"t":4593.1,"f":76,"e":4},{"r":7,"t":4594.2,"f":34,"e":11},{"r":7,"t":4595.3,"f":62,"e":4},{"r":7,"t":4596.2,"f":64,"e":4},{"r":7,"t":4597.2,"f":67,"e":4},{"r":7,"t":4598.2,"f":55,"e":4},{"r":7,"t":4599.1,"f":78,"e":18},{"r":7,"t":4600.2,"f":60,"e":5},{"r":7,"t":4601.2,"f":64,"e":5},{"r":7,"t":4602.1,"f":55,"e":5},{"r":7,"t":4603.2,"f":62,"e":5},{"r":7,"t":4604.2,"f":44,"e":6},{"r":7,"t":4605.2,"f":41,"e":5},{"r":7,"t":4606.1,"f":44,"e":5},{"r":7,"t":4608.2,"f":71,"e":9},
{"r":8,"t":4551,"f":28,"e":4},{"r":8,"t":4551.9,"f":26,"e":4},{"r":8,"t":4553.9,"f":35,"e":4},{"r":8,"t":4556.9,"f":19,"e":5},{"r":8,"t":4558,"f":21,"e":4},{"r":8,"t":4559,"f":28,"e":4},{"r":8,"t":4560,"f":26,"e":4},{"r":8,"t":4560.9,"f":25,"e":4},{"r":8,"t":4562,"f":19,"e":7},{"r":8,"t":4563,"f":33,"e":9},{"r":8,"t":4565,"f":28,"e":4},{"r":8,"t":4567,"f":40,"e":7},{"r":8,"t":4567.9,"f":47,"e":7},{"r":8,"t":4569,"f":37,"e":4},{"r":8,"t":4570,"f":42,"e":4},{"r":8,"t":4570.9,"f":49,"e":4},{"r":8,"t":4573.2,"f":54,"e":4},{"r":8,"t":4574,"f":54,"e":4},{"r":8,"t":4576,"f":40,"e":7},{"r":8,"t":4582.1,"f":51,"e":4},{"r":8,"t":4583,"f":58,"e":7},{"r":8,"t":4584.2,"f":61,"e":7},{"r":8,"t":4585.1,"f":58,"e":4},{"r":8,"t":4586.1,"f":65,"e":7},{"r":8,"t":4588.1,"f":58,"e":4},{"r":8,"t":4589.2,"f":54,"e":4},{"r":8,"t":4590.1,"f":51,"e":4},{"r":8,"t":4591,"f":47,"e":4},{"r":8,"t":4592.1,"f":49,"e":4},{"r":8,"t":4593.1,"f":47,"e":5},{"r":8,"t":4594.2,"f":47,"e":7},{"r":8,"t":4595.3,"f":47,"e":4},{"r":8,"t":4596.2,"f":44,"e":4},{"r":8,"t":4597.2,"f":47,"e":4},{"r":8,"t":4598.2,"f":35,"e":5},{"r":8,"t":4599.1,"f":70,"e":28},{"r":8,"t":4600.2,"f":44,"e":5},{"r":8,"t":4601.2,"f":47,"e":5},{"r":8,"t":4602.1,"f":33,"e":6},{"r":8,"t":4603.2,"f":40,"e":5},{"r":8,"t":4604.2,"f":49,"e":11},{"r":8,"t":4605.2,"f":37,"e":5},{"r":8,"t":4606.1,"f":42,"e":5},{"r":8,"t":4608.2,"f":47,"e":9},
{"r":9,"t":4551,"f":50,"e":3},{"r":9,"t":4551.9,"f":39,"e":7},{"r":9,"t":4553.9,"f":48,"e":3},{"r":9,"t":4556.9,"f":46,"e":3},{"r":9,"t":4558,"f":55,"e":3},{"r":9,"t":4559,"f":52,"e":3},{"r":9,"t":4560,"f":51,"e":3},{"r":9,"t":4560.9,"f":49,"e":3},{"r":9,"t":4562,"f":48,"e":5},{"r":9,"t":4563,"f":45,"e":9},{"r":9,"t":4565,"f":45,"e":3},{"r":9,"t":4567,"f":55,"e":4},{"r":9,"t":4567.9,"f":52,"e":4},{"r":9,"t":4569,"f":57,"e":4},{"r":9,"t":4570,"f":57,"e":4},{"r":9,"t":4570.9,"f":52,"e":4},{"r":9,"t":4573.2,"f":43,"e":9},{"r":9,"t":4574,"f":41,"e":9},{"r":9,"t":4575.6,"f":36,"e":7},{"r":9,"t":4576,"f":82,"e":7},{"r":9,"t":4582.1,"f":59,"e":4},{"r":9,"t":4583,"f":66,"e":5},{"r":9,"t":4584.2,"f":62,"e":4},{"r":9,"t":4585.1,"f":85,"e":11},{"r":9,"t":4586.1,"f":59,"e":4},{"r":9,"t":4588.1,"f":59,"e":4},{"r":9,"t":4589.2,"f":59,"e":4},{"r":9,"t":4590.1,"f":62,"e":4},{"r":9,"t":4591,"f":62,"e":5},{"r":9,"t":4592.1,"f":57,"e":9},{"r":9,"t":4593.1,"f":64,"e":11},{"r":9,"t":4594.2,"f":55,"e":9},{"r":9,"t":4595.3,"f":64,"e":7},{"r":9,"t":4596.2,"f":43,"e":5},{"r":9,"t":4597.2,"f":52,"e":9},{"r":9,"t":4598.2,"f":34,"e":7},{"r":9,"t":4599.1,"f":36,"e":18},{"r":9,"t":4600.2,"f":41,"e":5},{"r":9,"t":4601.2,"f":85,"e":7},{"r":9,"t":4602.1,"f":41,"e":5},{"r":9,"t":4603.2,"f":34,"e":7},{"r":9,"t":4604.2,"f":59,"e":5},{"r":9,"t":4605.2,"f":62,"e":5},{"r":9,"t":4606.1,"f":62,"e":5},{"r":9,"t":4608.2,"f":45,"e":18},
{"r":10,"t":4551,"f":33,"e":3},{"r":10,"t":4551.9,"f":33,"e":3},{"r":10,"t":4553.9,"f":30,"e":5},{"r":10,"t":4556.9,"f":11,"e":3},{"r":10,"t":4558,"f":20,"e":3},{"r":10,"t":4559,"f":17,"e":3},{"r":10,"t":4560,"f":16,"e":3},{"r":10,"t":4560.9,"f":22,"e":3},{"r":10,"t":4562,"f":19,"e":7},{"r":10,"t":4563,"f":19,"e":9},{"r":10,"t":4565,"f":19,"e":3},{"r":10,"t":4567,"f":14,"e":4},{"r":10,"t":4567.9,"f":19,"e":3},{"r":10,"t":4569,"f":28,"e":3},{"r":10,"t":4570,"f":33,"e":3},{"r":10,"t":4570.9,"f":37,"e":3},{"r":10,"t":4573.2,"f":54,"e":7},{"r":10,"t":4574,"f":63,"e":7},{"r":10,"t":4576,"f":86,"e":9},{"r":10,"t":4582.1,"f":60,"e":3},{"r":10,"t":4583,"f":58,"e":3},{"r":10,"t":4584.2,"f":58,"e":3},{"r":10,"t":4585.1,"f":59,"e":3},{"r":10,"t":4586.1,"f":58,"e":3},{"r":10,"t":4588.1,"f":65,"e":3},{"r":10,"t":4589.2,"f":65,"e":3},{"r":10,"t":4590.1,"f":54,"e":4},{"r":10,"t":4591,"f":56,"e":3},{"r":10,"t":4592.1,"f":49,"e":3},{"r":10,"t":4593.1,"f":49,"e":4},{"r":10,"t":4594.2,"f":19,"e":11},{"r":10,"t":4595.3,"f":35,"e":5},{"r":10,"t":4596.2,"f":44,"e":4},{"r":10,"t":4597.2,"f":35,"e":4},{"r":10,"t":4598.2,"f":35,"e":5},{"r":10,"t":4599.1,"f":65,"e":23},{"r":10,"t":4600.2,"f":63,"e":5},{"r":10,"t":4601.2,"f":35,"e":5},{"r":10,"t":4602.1,"f":26,"e":5},{"r":10,"t":4603.2,"f":40,"e":4},{"r":10,"t":4604.2,"f":26,"e":7},{"r":10,"t":4605.2,"f":35,"e":4},{"r":10,"t":4606.1,"f":44,"e":4},{"r":10,"t":4608.2,"f":59,"e":14},
{"r":11,"t":4551,"f":52,"e":3},{"r":11,"t":4551.9,"f":46,"e":3},{"r":11,"t":4553.9,"f":47,"e":5},{"r":11,"t":4556.9,"f":36,"e":3},{"r":11,"t":4558,"f":22,"e":3},{"r":11,"t":4559,"f":33,"e":3},{"r":11,"t":4560,"f":31,"e":3},{"r":11,"t":4560.9,"f":31,"e":3},{"r":11,"t":4562,"f":31,"e":3},{"r":11,"t":4563,"f":20,"e":9},{"r":11,"t":4565,"f":29,"e":3},{"r":11,"t":4567,"f":22,"e":7},{"r":11,"t":4567.9,"f":43,"e":5},{"r":11,"t":4569,"f":45,"e":3},{"r":11,"t":4570,"f":47,"e":3},{"r":11,"t":4570.9,"f":52,"e":3},{"r":11,"t":4573.2,"f":64,"e":4},{"r":11,"t":4574,"f":69,"e":4},{"r":11,"t":4576,"f":70,"e":7},{"r":11,"t":4582.1,"f":87,"e":3},{"r":11,"t":4583,"f":66,"e":7},{"r":11,"t":4584.2,"f":76,"e":3},{"r":11,"t":4585.1,"f":84,"e":3},{"r":11,"t":4586.1,"f":77,"e":3},{"r":11,"t":4588.1,"f":87,"e":3},{"r":11,"t":4589.2,"f":87,"e":3},{"r":11,"t":4590.1,"f":82,"e":3},{"r":11,"t":4591,"f":77,"e":4},{"r":11,"t":4592.1,"f":75,"e":7},{"r":11,"t":4593.1,"f":84,"e":4},{"r":11,"t":4594.2,"f":54,"e":18},{"r":11,"t":4595.3,"f":75,"e":4},{"r":11,"t":4596.2,"f":80,"e":4},{"r":11,"t":4597.2,"f":68,"e":5},{"r":11,"t":4598.2,"f":70,"e":5},{"r":11,"t":4599.1,"f":75,"e":18},{"r":11,"t":4600.2,"f":64,"e":5},{"r":11,"t":4601.2,"f":73,"e":5},{"r":11,"t":4602.1,"f":54,"e":5},{"r":11,"t":4603.2,"f":59,"e":5},{"r":11,"t":4604.2,"f":45,"e":9},{"r":11,"t":4605.2,"f":75,"e":5},{"r":11,"t":4606.1,"f":75,"e":5},{"r":11,"t":4608.2,"f":45,"e":16},
{"r":12,"t":4551,"f":23,"e":3},{"r":12,"t":4551.9,"f":19,"e":3},{"r":12,"t":4553.9,"f":18,"e":3},{"r":12,"t":4556.9,"f":16,"e":5},{"r":12,"t":4558,"f":10,"e":3},{"r":12,"t":4559,"f":13,"e":3},{"r":12,"t":4560,"f":16,"e":3},{"r":12,"t":4560.9,"f":15,"e":3},{"r":12,"t":4562,"f":10,"e":3},{"r":12,"t":4563,"f":15,"e":4},{"r":12,"t":4565,"f":13,"e":3},{"r":12,"t":4567,"f":16,"e":3},{"r":12,"t":4567.9,"f":21,"e":3},{"r":12,"t":4569,"f":21,"e":3},{"r":12,"t":4570,"f":23,"e":3},{"r":12,"t":4570.9,"f":23,"e":3},{"r":12,"t":4573.2,"f":30,"e":3},{"r":12,"t":4574,"f":31,"e":3},{"r":12,"t":4576,"f":39,"e":7},{"r":12,"t":4582.1,"f":39,"e":3},{"r":12,"t":4583,"f":55,"e":5},{"r":12,"t":4584.2,"f":37,"e":3},{"r":12,"t":4585.1,"f":41,"e":3},{"r":12,"t":4586.1,"f":39,"e":3},{"r":12,"t":4588.1,"f":41,"e":3},{"r":12,"t":4589.2,"f":42,"e":3},{"r":12,"t":4590.1,"f":38,"e":3},{"r":12,"t":4591,"f":30,"e":4},{"r":12,"t":4592.1,"f":28,"e":4},{"r":12,"t":4593.1,"f":32,"e":4},{"r":12,"t":4594.2,"f":23,"e":9},{"r":12,"t":4595.3,"f":32,"e":4},{"r":12,"t":4596.2,"f":35,"e":4},{"r":12,"t":4597.2,"f":32,"e":4},{"r":12,"t":4598.2,"f":18,"e":7},{"r":12,"t":4599.1,"f":83,"e":14},{"r":12,"t":4600.2,"f":51,"e":9},{"r":12,"t":4601.2,"f":28,"e":4},{"r":12,"t":4602.1,"f":18,"e":4},{"r":12,"t":4603.2,"f":30,"e":4},{"r":12,"t":4604.2,"f":25,"e":4},{"r":12,"t":4605.2,"f":23,"e":4},{"r":12,"t":4606.1,"f":30,"e":4},{"r":12,"t":4608.2,"f":28,"e":11},
{"r":13,"t":4551,"f":35},{"r":13,"t":4551.9,"f":35},{"r":13,"t":4553.9,"f":35},{"r":13,"t":4556.9,"f":12},{"r":13,"t":4558,"f":12},{"r":13,"t":4559,"f":12},{"r":13,"t":4560,"f":13},{"r":13,"t":4560.9,"f":16},{"r":13,"t":4563,"f":6},{"r":13,"t":4565,"f":19},{"r":13,"t":4567,"f":26},{"r":13,"t":4567.9,"f":47},{"r":13,"t":4569,"f":36},{"r":13,"t":4570.9,"f":56},{"r":13,"t":4573.2,"f":68},{"r":13,"t":4574,"f":84},{"r":13,"t":4576,"f":77},{"r":13,"t":4582.1,"f":85},{"r":13,"t":4583,"f":68},{"r":13,"t":4584.2,"f":84},{"r":13,"t":4585.1,"f":88},{"r":13,"t":4586.1,"f":82},{"r":13,"t":4588.1,"f":88},{"r":13,"t":4589.2,"f":87},{"r":13,"t":4590.1,"f":81},{"r":13,"t":4591,"f":70},{"r":13,"t":4592.1,"f":70},{"r":13,"t":4593.1,"f":82},{"r":13,"t":4594.2,"f":58},{"r":13,"t":4595.3,"f":63},{"r":13,"t":4596.2,"f":63},{"r":13,"t":4597.2,"f":70},{"r":13,"t":4598.2,"f":53},{"r":13,"t":4599.1,"f":31},{"r":13,"t":4601.2,"f":68},{"r":13,"t":4602.1,"f":56},{"r":13,"t":4604.2,"f":33},{"r":13,"t":4605.2,"f":46},{"r":13,"t":4606.1,"f":47},{"r":13,"t":4608.2,"f":44},
{"r":14,"t":4551,"f":39},{"r":14,"t":4551.9,"f":35},{"r":14,"t":4553.9,"f":27},{"r":14,"t":4556.9,"f":10},{"r":14,"t":4558,"f":9},{"r":14,"t":4559,"f":7},{"r":14,"t":4560,"f":4},{"r":14,"t":4560.9,"f":7},{"r":14,"t":4562,"f":9},{"r":14,"t":4563,"f":6},{"r":14,"t":4565,"f":16},{"r":14,"t":4567,"f":19},{"r":14,"t":4567.9,"f":29},{"r":14,"t":4569,"f":32},{"r":14,"t":4570,"f":33},{"r":14,"t":4573.2,"f":53},{"r":14,"t":4574,"f":64},{"r":14,"t":4576,"f":70},{"r":14,"t":4582.1,"f":75},{"r":14,"t":4583,"f":82},{"r":14,"t":4584.2,"f":78},{"r":14,"t":4585.1,"f":76},{"r":14,"t":4586.1,"f":84},{"r":14,"t":4588.1,"f":88},{"r":14,"t":4589.2,"f":93},{"r":14,"t":4590.1,"f":92},{"r":14,"t":4591,"f":92},{"r":14,"t":4592.1,"f":90},{"r":14,"t":4594.2,"f":63},{"r":14,"t":4595.3,"f":80},{"r":14,"t":4596.2,"f":71},{"r":14,"t":4597.2,"f":76},{"r":14,"t":4598.2,"f":70},{"r":14,"t":4599.1,"f":49},{"r":14,"t":4601.2,"f":70},{"r":14,"t":4602.1,"f":66},{"r":14,"t":4603.2,"f":64},{"r":14,"t":4604.2,"f":55},{"r":14,"t":4605.2,"f":53},{"r":14,"t":4606.1,"f":48},{"r":14,"t":4608.2,"f":39},
{"r":15,"t":4551,"f":38},{"r":15,"t":4551.9,"f":32},{"r":15,"t":4553.9,"f":21},{"r":15,"t":4556.9,"f":24},{"r":15,"t":4558,"f":19},{"r":15,"t":4559,"f":12},{"r":15,"t":4560,"f":10},{"r":15,"t":4560.9,"f":12},{"r":15,"t":4562,"f":14},{"r":15,"t":4563,"f":7},{"r":15,"t":4565,"f":23},{"r":15,"t":4567,"f":19},{"r":15,"t":4567.9,"f":5},{"r":15,"t":4569,"f":19},{"r":15,"t":4570,"f":21},{"r":15,"t":4570.9,"f":35},{"r":15,"t":4573.2,"f":33},{"r":15,"t":4574,"f":33},{"r":15,"t":4576,"f":35},{"r":15,"t":4582.1,"f":44},{"r":15,"t":4583,"f":74},{"r":15,"t":4584.2,"f":47},{"r":15,"t":4585.1,"f":38},{"r":15,"t":4586.1,"f":65},{"r":15,"t":4588.1,"f":56},{"r":15,"t":4589.2,"f":56},{"r":15,"t":4590.1,"f":73},{"r":15,"t":4591,"f":72},{"r":15,"t":4592.1,"f":71},{"r":15,"t":4593.1,"f":70},{"r":15,"t":4594.2,"f":60},{"r":15,"t":4595.3,"f":93},{"r":15,"t":4596.2,"f":79},{"r":15,"t":4597.2,"f":78},{"r":15,"t":4599.1,"f":47},{"r":15,"t":4601.2,"f":55},{"r":15,"t":4602.1,"f":65},{"r":15,"t":4603.2,"f":72},{"r":15,"t":4604.2,"f":60},{"r":15,"t":4606.1,"f":47},{"r":15,"t":4608.2,"f":29},
{"r":16,"t":4506.8,"f":97},{"r":16,"t":4514.8,"f":77},{"r":16,"t":4523.9,"f":43},{"r":16,"t":4525.8,"f":39},{"r":16,"t":4527.7,"f":46},{"r":16,"t":4529.2,"f":43},{"r":16,"t":4530.1,"f":45},{"r":16,"t":4531.6,"f":47},{"r":16,"t":4532.6,"f":44},{"r":16,"t":4533.5,"f":42},{"r":16,"t":4535.6,"f":41},{"r":16,"t":4538.8,"f":37},{"r":16,"t":4539.8,"f":41},{"r":16,"t":4540.7,"f":54},{"r":16,"t":4544.1,"f":43},{"r":16,"t":4545.1,"f":41},{"r":16,"t":4545.8,"f":50},{"r":16,"t":4547.4,"f":29},{"r":16,"t":4548.4,"f":27},{"r":16,"t":4551.8,"f":11},{"r":16,"t":4552.7,"f":8},{"r":16,"t":4554.6,"f":6},{"r":16,"t":4556.6,"f":4},{"r":16,"t":4559,"f":5},{"r":16,"t":4559.9,"f":8},{"r":16,"t":4560.9,"f":15},{"r":16,"t":4561.9,"f":18},{"r":16,"t":4567.2,"f":25},{"r":16,"t":4568.1,"f":41},{"r":16,"t":4568.9,"f":43},{"r":16,"t":4569.8,"f":54},{"r":16,"t":4570.5,"f":68},{"r":16,"t":4571.8,"f":82},{"r":16,"t":4573.4,"f":73},{"r":16,"t":4574.8,"f":66},{"r":16,"t":4575.8,"f":61},{"r":16,"t":4576.8,"f":70},{"r":16,"t":4577.7,"f":69},{"r":16,"t":4578.7,"f":73},{"r":16,"t":4579.8,"f":75},{"r":16,"t":4581.1,"f":77},{"r":16,"t":4582,"f":80},{"r":16,"t":4583,"f":82},{"r":16,"t":4584,"f":89},{"r":16,"t":4584.9,"f":91},{"r":16,"t":4585.9,"f":90},{"r":16,"t":4586.8,"f":87},{"r":16,"t":4587.8,"f":94},{"r":16,"t":4591,"f":59},{"r":16,"t":4592.6,"f":73},{"r":16,"t":4596,"f":82,"e":6},{"r":16,"t":4597,"f":61},{"r":16,"t":4597.7,"f":57},{"r":16,"t":4598.9,"f":66},{"r":16,"t":4603.2,"f":31}
]},
"layer":[
{"transform":[{"filter":"isValid(datum.m)"}],
"mark":{"type":"line","color":"black","strokeWidth":1.5,"interpolate":"monotone","clip":true},
"encoding":{
"x":{"field":"t","type":"quantitative","scale":{"domain":[4503.1,4611.6],"nice":false,"zero":false},
"axis":{"orient":"top","title":null,"labels":false,"domain":false,"values":[4510,4520,4530,4540,4550,4560,4570,4580,4590,4600,4610],"tickSize":-6}},
"y":{"field":"r","type":"ordinal","scale":{"paddingInner":0,"paddingOuter":0},"axis":null},
"yOffset":{"field":"m","type":"quantitative","scale":{"domain":[0,100],"range":[72.36,0]}},
"detail":{"field":"r","type":"nominal"},
"order":{"field":"t","type":"quantitative"}}},
{"transform":[{"filter":"isValid(datum.e)"}],
"mark":{"type":"point","shape":"M0,-1L0,1","filled":false,"color":"black","strokeWidth":1.1,"opacity":1,"clip":true},
"encoding":{
"x":{"field":"t","type":"quantitative","axis":{"orient":"bottom","title":null,"labels":false,"domain":false,"values":[4510,4520,4530,4540,4550,4560,4570,4580,4590,4600,4610],"tickSize":-7}},
"y":{"field":"r","type":"ordinal","axis":null},
"yOffset":{"field":"f","type":"quantitative"},
"size":{"field":"e","type":"quantitative","scale":{"type":"pow","exponent":2,"domain":[0,10],"range":[0,209.4]},"legend":null}}},
{"transform":[{"filter":"isValid(datum.f)"}],
"mark":{"type":"point","shape":"M-1,0L1,0M0,-1L0,1","size":30,"filled":false,"color":"black","strokeWidth":1.1,"opacity":1,"clip":true},
"encoding":{"x":{"field":"t","type":"quantitative","axis":null},"y":{"field":"r","type":"ordinal","axis":null},"yOffset":{"field":"f","type":"quantitative"}}},
{"transform":[{"filter":"isValid(datum.chi)"}],
"mark":{"type":"text","align":"left","baseline":"alphabetic","fontSize":15,"color":"black"},
"encoding":{"x":{"datum":4506.3,"axis":null},"y":{"field":"r","type":"ordinal","axis":null},"yOffset":{"datum":14},"text":{"field":"chi"}}},
{"transform":[{"filter":"isValid(datum.ylab)"}],
"mark":{"type":"text","angle":270,"align":"center","baseline":"middle","fontSize":21,"color":"black"},
"encoding":{"x":{"datum":4620.7,"axis":null},"y":{"field":"r","type":"ordinal","axis":null},"yOffset":{"datum":0},"text":{"field":"ylab"}}}
]
}
],"spacing":0,"bounds":"flush"},
{
"data":{"values":[
{"lab":"B","chi":"χ²/66=5.44","ylab":"C(t)"},
{"t":4486.4,"m":95},{"t":4496,"m":90},{"t":4505.6,"m":80},{"t":4515.3,"m":67},{"t":4523.9,"m":46},{"t":4526.8,"m":43},{"t":4530.6,"m":42},{"t":4534.5,"m":39},{"t":4539.3,"m":42},{"t":4544.1,"m":41},{"t":4546,"m":37},{"t":4548.4,"m":28},{"t":4550.8,"m":18},{"t":4553.7,"m":12},{"t":4556.6,"m":6},{"t":4559,"m":5},{"t":4560.4,"m":7},{"t":4563.3,"m":16},{"t":4567.2,"m":31},{"t":4570,"m":46},{"t":4571.9,"m":58},{"t":4573.9,"m":67},{"t":4575.8,"m":67},{"t":4578.7,"m":71},{"t":4581.6,"m":78},{"t":4586.4,"m":88},{"t":4589.3,"m":82},{"t":4592.1,"m":69},{"t":4596,"m":65},{"t":4599.8,"m":51},{"t":4603.7,"m":28},{"t":4608,"m":14},
{"t":4506.8,"f":95},{"t":4514.8,"f":67},{"t":4523.9,"f":44},{"t":4524.9,"f":41},{"t":4525.8,"f":38},{"t":4527.7,"f":39},{"t":4529.2,"f":38},{"t":4530.1,"f":38},{"t":4531.6,"f":41},{"t":4532.6,"f":40},{"t":4533.5,"f":41},{"t":4536.9,"f":32},{"t":4538.8,"f":35},{"t":4540.7,"f":52},{"t":4544.1,"f":40},{"t":4545.1,"f":39},{"t":4546,"f":37},{"t":4548,"f":25},{"t":4548.9,"f":20},{"t":4551.8,"f":12},{"t":4552.7,"f":9},{"t":4554.6,"f":6},{"t":4556.6,"f":5},{"t":4559,"f":6},{"t":4560.4,"f":9},{"t":4561.9,"f":18},{"t":4567.2,"f":32},{"t":4568.1,"f":35},{"t":4569.1,"f":44},{"t":4569.8,"f":54},{"t":4570.8,"f":76},{"t":4571.9,"f":80},{"t":4572.9,"f":80},{"t":4573.9,"f":78},{"t":4574.8,"f":67},{"t":4575.8,"f":63},{"t":4577.2,"f":69},{"t":4578.7,"f":69},{"t":4580.1,"f":76},{"t":4581.6,"f":74},{"t":4582.5,"f":82},{"t":4584,"f":90},{"t":4584.9,"f":91},{"t":4585.9,"f":92},{"t":4586.8,"f":92},{"t":4587.8,"f":94},{"t":4589.7,"f":80},{"t":4591,"f":69},{"t":4592.6,"f":76},{"t":4597,"f":63},{"t":4598,"f":54},{"t":4598.9,"f":54},{"t":4603.2,"f":30}
]},
"width":662.6,"height":72.3,
"layer":[
{"transform":[{"filter":"isValid(datum.m)"}],
"mark":{"type":"line","color":"black","strokeWidth":1.5,"interpolate":"monotone"},
"encoding":{
"x":{"field":"t","type":"quantitative","scale":{"domain":[4483.06,4611.6],"nice":false,"zero":false},
"axis":{"orient":"bottom","values":[4490,4500,4510,4520,4530,4540,4550,4560,4570,4580,4590,4600,4610],"format":"d","labelExpr":"datum.value % 50 === 0 ? datum.label : ''","tickSize":-7,"domain":false,"labelFontSize":21,"labelPadding":22,"labelFlush":false,"labelOverlap":false,"title":"HJD − 2450000","titleFontSize":21,"titlePadding":32}},
"y":{"field":"m","type":"quantitative","scale":{"domain":[0,100],"nice":false,"zero":false},"axis":null},
"order":{"field":"t","type":"quantitative"}}},
{"transform":[{"filter":"isValid(datum.f)"}],
"mark":{"type":"point","shape":"M-1,0L1,0M0,-1L0,1","size":30,"filled":false,"color":"black","strokeWidth":1.1,"opacity":1},
"encoding":{"x":{"field":"t","type":"quantitative","axis":{"orient":"top","title":null,"labels":false,"domain":false,"values":[4490,4500,4510,4520,4530,4540,4550,4560,4570,4580,4590,4600,4610],"tickSize":-6}},"y":{"field":"f","type":"quantitative","scale":{"domain":[0,100],"nice":false,"zero":false},"axis":null}}},
{"transform":[{"filter":"isValid(datum.lab)"}],
"mark":{"type":"text","align":"right","baseline":"alphabetic","fontSize":15.5,"color":"black"},
"encoding":{"x":{"datum":4501.2,"axis":null},"y":{"datum":58,"axis":null},"text":{"field":"lab"}}},
{"transform":[{"filter":"isValid(datum.chi)"}],
"mark":{"type":"text","align":"left","baseline":"alphabetic","fontSize":15,"color":"black"},
"encoding":{"x":{"datum":4506.1,"axis":null},"y":{"datum":11.5,"axis":null},"text":{"field":"chi"}}},
{"transform":[{"filter":"isValid(datum.ylab)"}],
"mark":{"type":"text","angle":270,"align":"center","baseline":"middle","fontSize":21,"color":"black"},
"encoding":{"x":{"datum":4620.7,"axis":null},"y":{"datum":50,"axis":null},"text":{"field":"ylab"}}}
]
}
]
}
